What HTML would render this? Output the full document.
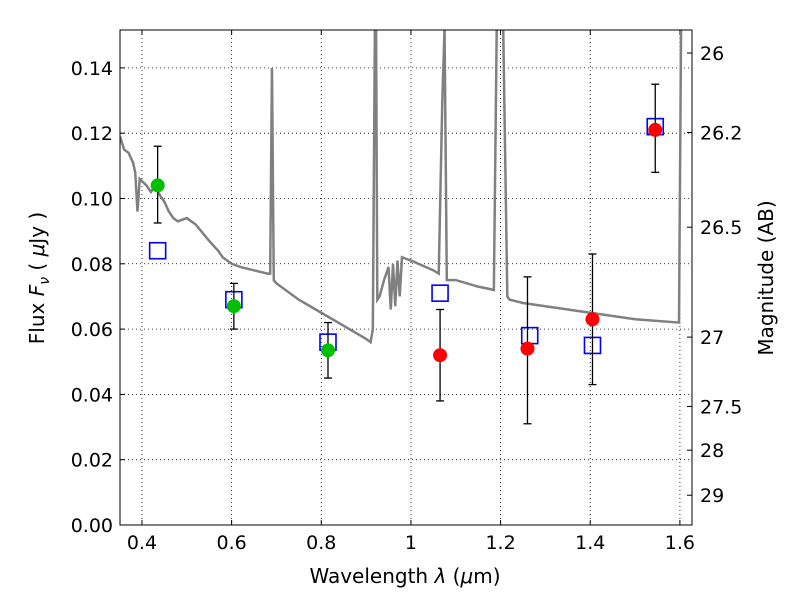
<!DOCTYPE html>
<html><head><meta charset="utf-8"><style>
body{margin:0;background:#fff;}
svg text{font-family:"DejaVu Sans","Liberation Sans",sans-serif;}
</style></head><body>
<svg id="c" width="800" height="600" viewBox="0 0 800 600"></svg>
<script>
const xTicks=[0.4,0.6,0.8,1.0,1.2,1.4,1.6];
const xTickLabels=["0.4","0.6","0.8","1","1.2","1.4","1.6"];
const yTicks=[0,0.02,0.04,0.06,0.08,0.10,0.12,0.14];
const yTickLabels=["0.00","0.02","0.04","0.06","0.08","0.10","0.12","0.14"];
const magTicks=[26,26.2,26.5,27,27.5,28,29];
const magTickLabels=["26","26.2","26.5","27","27.5","28","29"];
const specWl=[0.351,0.36,0.37,0.38,0.385,0.39,0.395,0.41,0.42,0.43,0.44,0.45,0.46,0.47,0.48,0.5,0.52,0.55,0.57,0.58,0.6,0.62,0.65,0.68,0.686,0.69,0.694,0.7,0.75,0.8,0.85,0.9,0.91,0.915,0.92,0.922,0.925,0.93,0.94,0.95,0.955,0.96,0.965,0.97,0.975,0.98,1.0,1.05,1.062,1.07,1.075,1.08,1.09,1.1,1.15,1.185,1.192,1.198,1.205,1.215,1.22,1.25,1.3,1.4,1.5,1.598,1.603,1.607,1.612];
const specFlux=[0.119,0.115,0.114,0.111,0.108,0.096,0.106,0.104,0.102,0.104,0.101,0.099,0.096,0.094,0.093,0.094,0.092,0.087,0.084,0.082,0.08,0.079,0.078,0.077,0.077,0.14,0.075,0.074,0.069,0.065,0.061,0.057,0.056,0.06,0.16,0.16,0.069,0.07,0.075,0.079,0.066,0.08,0.067,0.081,0.07,0.082,0.081,0.078,0.077,0.13,0.152,0.075,0.075,0.075,0.073,0.072,0.16,0.16,0.16,0.07,0.069,0.068,0.067,0.065,0.063,0.062,0.16,0.16,0.16];
const greenWl=[0.435,0.605,0.815];
const greenFlux=[0.104,0.067,0.0535];
const greenHi=[0.116,0.074,0.062];
const greenLo=[0.0925,0.060,0.045];
const redWl=[1.065,1.26,1.405,1.545];
const redFlux=[0.052,0.054,0.063,0.121];
const redHi=[0.066,0.076,0.083,0.135];
const redLo=[0.038,0.031,0.043,0.108];
const modelWl=[0.435,0.605,0.815,1.065,1.265,1.405,1.545];
const modelFlux=[0.084,0.069,0.056,0.071,0.058,0.055,0.122];

const L=120,R=692,T=30,B=525,X0=0.351,X1=1.627,Y0=0,Y1=0.1516;
const sx=v=>L+(v-X0)/(X1-X0)*(R-L);
const sy=v=>B-(v-Y0)/(Y1-Y0)*(B-T);
const svg=document.getElementById('c');const NS="http://www.w3.org/2000/svg";
function mk(t,a,p){const e=document.createElementNS(NS,t);for(const k in a)e.setAttribute(k,a[k]);(p||svg).appendChild(e);return e;}
const defs=mk('defs',{});const cp=mk('clipPath',{id:'clip'},defs);mk('rect',{x:L,y:T,width:R-L,height:B-T},cp);
const grid=mk('g',{});
xTicks.forEach((v,i)=>{const x=sx(v);
 mk('line',{x1:x,x2:x,y1:T,y2:B,stroke:'#000','stroke-dasharray':'1,3','stroke-width':0.8},grid);
 mk('line',{x1:x,x2:x,y1:B,y2:B-5,stroke:'#000'});mk('line',{x1:x,x2:x,y1:T,y2:T+5,stroke:'#000'});
 const t=mk('text',{x:x,y:B+24,'font-size':19,'text-anchor':'middle'});t.textContent=xTickLabels[i];
 });
yTicks.forEach((v,i)=>{const y=sy(v);
 mk('line',{x1:L,x2:R,y1:y,y2:y,stroke:'#000','stroke-dasharray':'1,3','stroke-width':0.8},grid);
 mk('line',{x1:L,x2:L+5,y1:y,y2:y,stroke:'#000'});
 const t=mk('text',{x:L-7,y:y+7,'font-size':19,'text-anchor':'end'});t.textContent=yTickLabels[i];
 });
magTicks.forEach((m,i)=>{const f=Math.pow(10,(23.9-m)/2.5);const y=sy(f);
 mk('line',{x1:R,x2:R-5,y1:y,y2:y,stroke:'#000'});
 const t=mk('text',{x:R+8,y:y+7,'font-size':19});t.textContent=magTickLabels[i];
 });
const sp=mk('polyline',{points:specWl.map((w,i)=>sx(w)+','+sy(specFlux[i])).join(' '),fill:'none',stroke:'#808080','stroke-width':2.5,'clip-path':'url(#clip)'});

function pts(wl,fl,hi,lo,col,name){wl.forEach((w,i)=>{const x=sx(w);
 if(hi){const g=mk('g',{});
 mk('line',{x1:x,x2:x,y1:sy(hi[i]),y2:sy(lo[i]),stroke:'#000','stroke-width':1.3},g);
 mk('line',{x1:x-4,x2:x+4,y1:sy(hi[i]),y2:sy(hi[i]),stroke:'#000','stroke-width':1.3},g);
 mk('line',{x1:x-4,x2:x+4,y1:sy(lo[i]),y2:sy(lo[i]),stroke:'#000','stroke-width':1.3},g);}
 const c=mk('circle',{cx:x,cy:sy(fl[i]),r:7,fill:col});});}
modelWl.forEach((w,i)=>{const r=mk('rect',{x:sx(w)-8,y:sy(modelFlux[i])-8,width:16,height:16,fill:'none',stroke:'#0000ff','stroke-width':1.6});
 });
pts(greenWl,greenFlux,greenHi,greenLo,'#00c000','green');
pts(redWl,redFlux,redHi,redLo,'#ff0000','red');
const fr=mk('rect',{x:L,y:T,width:R-L,height:B-T,fill:'none',stroke:'#000','stroke-width':1});

</script>
<svg width="800" height="600" style="position:absolute;left:0;top:0">
<text x="405" y="583" font-size="20" text-anchor="middle" font-family="DejaVu Sans,sans-serif">Wavelength  <tspan font-style="italic">λ</tspan> (<tspan font-style="italic">μ</tspan>m)</text>
<text transform="translate(44,278) rotate(-90)" font-size="20" text-anchor="middle" font-family="DejaVu Sans,sans-serif">Flux  <tspan font-style="italic">F</tspan><tspan font-style="italic" font-size="14" dy="5">ν</tspan><tspan dy="-5">  (  </tspan><tspan font-style="italic">μ</tspan>Jy )</text>
<text transform="translate(773,278) rotate(-90)" font-size="20" text-anchor="middle" font-family="DejaVu Sans,sans-serif">Magnitude (AB)</text>
</svg>
</body></html>
